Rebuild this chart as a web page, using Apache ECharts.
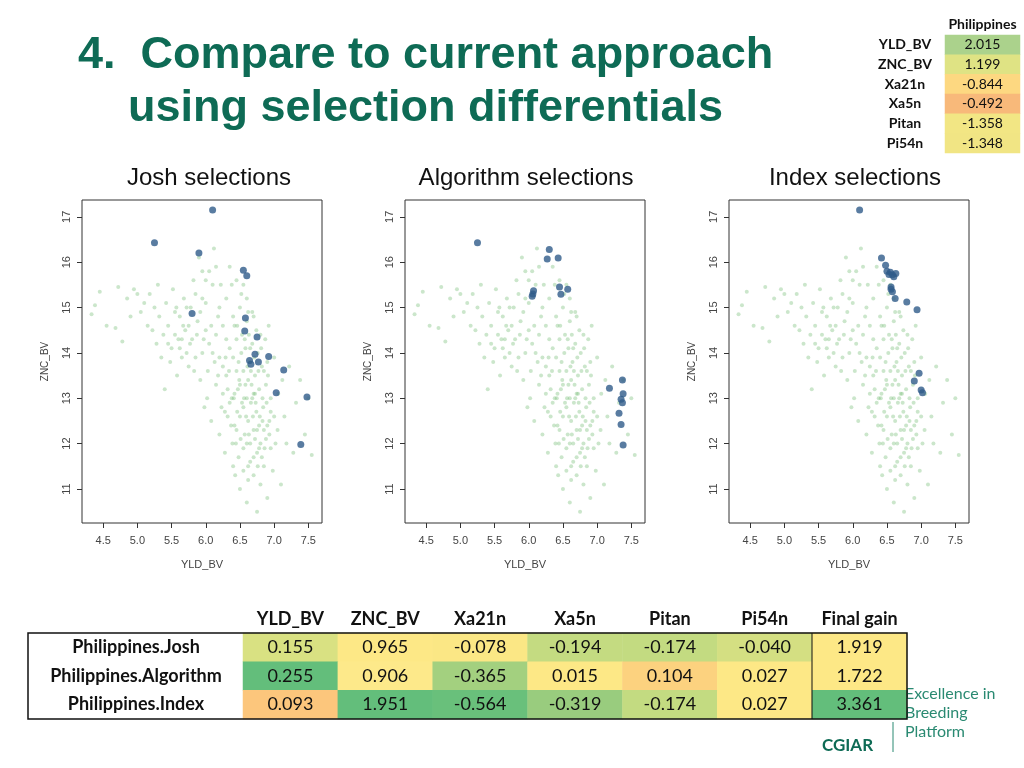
<!DOCTYPE html>
<html>
<head>
<meta charset="utf-8" />
<script src="https://cdn.jsdelivr.net/npm/echarts@6/dist/echarts.min.js"></script>
<style>
  html, body { margin: 0; padding: 0; background: #fff; overflow: hidden; }
  #main { width: 1024px; height: 768px; }
</style>
</head>
<body>
<div id="main"></div>
<script>
// ---- data ----
var panelTitles = ['Josh selections', 'Algorithm selections', 'Index selections'];
var xTicks = [4.5, 5.0, 5.5, 6.0, 6.5, 7.0, 7.5];
var yTicks = [11, 12, 13, 14, 15, 16, 17];

// all candidates (hand-estimated sample of the cloud)
var population = [
  [4.33,14.85],[4.38,15.05],[4.45,15.35],[4.55,14.6],[4.68,14.55],[4.72,15.45],[4.78,14.25],[4.85,15.2],
  [4.9,14.8],[4.95,15.4],[5.0,15.3],[5.05,14.9],[5.1,15.1],[5.15,14.6],[5.18,15.3],[5.22,14.5],[5.25,15.0],
  [5.28,14.2],[5.3,15.5],[5.32,14.8],[5.35,13.9],[5.38,14.4],[5.4,13.2],[5.42,15.1],[5.45,14.6],[5.48,13.8],
  [5.5,14.1],[5.52,15.4],[5.55,14.9],[5.58,13.5],[5.6,14.3],[5.62,14.8],[5.65,13.9],[5.68,15.2],[5.7,14.5],
  [5.72,14.0],[5.75,13.7],[5.78,15.0],[5.8,14.3],[5.82,15.6],[5.85,13.9],[5.88,14.7],[5.9,16.1],[5.92,13.4],
  [5.95,15.2],[5.98,12.8],[6.0,14.5],[6.02,13.0],[6.05,15.8],[6.08,12.5],[6.1,14.0],[6.12,16.3],[6.15,13.3],
  [6.18,14.8],[6.2,12.2],[6.22,15.5],[6.25,13.7],[6.28,11.8],[6.3,14.3],[6.32,12.6],[6.35,15.9],[6.38,13.0],
  [6.4,11.5],[6.42,14.6],[6.45,12.3],[6.48,13.8],[6.5,11.0],[6.52,15.3],[6.55,12.8],[6.58,14.1],[6.6,10.7],
  [6.62,13.4],[6.65,12.0],[6.68,14.9],[6.7,11.3],[6.72,13.1],[6.75,10.5],[6.78,12.4],[6.8,14.4],[6.82,11.7],
  [6.85,13.6],[6.88,12.1],[6.9,10.8],[6.92,14.6],[6.95,12.7],[6.98,11.4],[7.0,13.9],[7.05,12.3],[7.1,11.1],
  [7.12,13.4],[7.18,12.0],[7.22,13.7],[7.28,11.8],[7.32,12.9],[7.38,13.4],[7.45,12.2],[7.5,13.0],[7.55,11.75],
  [6.3,13.5],[6.35,12.9],[6.4,13.9],[6.42,12.4],[6.45,14.3],[6.47,13.2],[6.5,12.6],[6.52,14.0],[6.55,13.6],
  [6.57,12.2],[6.6,14.7],[6.6,13.0],[6.62,12.5],[6.64,13.8],[6.66,12.9],[6.68,14.2],[6.7,12.3],[6.72,13.5],
  [6.74,12.7],[6.76,14.0],[6.78,13.2],[6.8,12.0],[6.82,13.7],[6.84,12.8],[6.86,11.9],[6.88,13.3],[6.9,12.4],
  [6.55,11.9],[6.48,11.7],[6.65,11.6],[6.75,11.8],[6.5,15.0],[6.6,15.2],[6.7,14.8],[6.4,14.8],[6.35,14.1],
  [6.25,13.1],[6.28,12.7],[6.2,13.9],[6.15,14.4],[6.05,14.2],[6.95,13.0],[7.0,12.6],[6.9,13.8],[6.58,13.3],
  [6.63,14.4],[6.53,12.9],[6.68,13.0],[6.72,12.1],[6.45,13.6],[6.62,11.2],[6.8,11.1],[6.43,11.3],[6.95,11.9],
  [5.65,14.3],[5.55,14.4],[5.75,14.6],[5.95,14.0],[6.0,15.1],[6.1,15.5],[5.85,15.3],[5.45,14.2],[6.25,14.6],
  [6.32,13.2],[6.37,12.4],[6.41,13.0],[6.44,12.0],[6.46,14.6],[6.49,13.4],[6.51,12.1],[6.53,14.4],[6.56,13.0],
  [6.59,12.6],[6.61,13.7],[6.63,12.2],[6.65,14.1],[6.67,13.3],[6.69,12.6],[6.71,13.9],[6.73,12.9],[6.75,12.3],
  [6.77,13.6],[6.79,12.6],[6.81,14.1],[6.83,13.0],[6.85,12.3],[6.87,14.3],[6.89,12.9],[6.91,13.5],[6.93,12.2],
  [6.57,14.3],[6.62,14.9],[6.66,13.6],[6.7,13.1],[6.74,14.5],[6.78,11.9],[6.83,12.5],[6.6,12.0],[6.5,13.3],
  [6.46,12.7],[6.39,12.0],[6.34,13.6],[6.29,13.9],[6.23,12.8],[6.18,13.5],[6.13,13.8],[6.08,14.6],[6.03,13.6],
  [5.97,14.3],[5.92,14.9],[5.87,14.4],[5.83,13.6],[5.77,14.2],[5.72,15.0],[5.67,14.6],[5.62,14.1],[5.57,15.0],
  [6.62,11.5],[6.7,11.7],[6.76,11.5],[6.55,11.4],[6.85,11.5],[6.93,12.5],[7.02,12.0],[7.06,13.1],[7.15,12.6],
  [6.45,15.6],[6.3,15.2],[6.2,15.0],[6.38,15.5],[6.55,15.5],[6.15,15.9],[6.0,15.6],[5.95,15.8],[6.42,13.1]
];
var joshSel = [[6.1,17.15],[5.25,16.43],[5.9,16.2],[6.55,15.82],[6.6,15.7],[5.8,14.87],[6.58,14.77],[6.57,14.48],
  [6.75,14.35],[6.72,13.97],[6.92,13.92],[6.64,13.83],[6.66,13.75],[6.77,13.8],[7.14,13.62],[7.03,13.12],[7.48,13.03],[7.39,11.98]];
var algoSel = [[5.25,16.43],[6.3,16.28],[6.27,16.07],[6.43,16.09],[6.07,15.37],[6.06,15.3],[6.05,15.25],[6.45,15.45],
  [6.47,15.29],[6.57,15.4],[7.18,13.22],[7.37,13.4],[7.38,13.1],[7.35,12.98],[7.37,12.9],[7.32,12.67],[7.35,12.42],[7.38,11.97]];
var indexSel = [[6.1,17.15],[6.42,16.09],[6.48,15.93],[6.5,15.8],[6.55,15.78],[6.58,15.72],[6.6,15.68],[6.63,15.75],
  [6.53,15.73],[6.56,15.45],[6.56,15.4],[6.58,15.35],[6.62,15.2],[6.79,15.12],[6.94,14.95],[6.97,13.55],[6.9,13.38],[7.0,13.18],[7.02,13.12]];

// gain table
var gainCols = ['YLD_BV', 'ZNC_BV', 'Xa21n', 'Xa5n', 'Pitan', 'Pi54n', 'Final gain'];
var gainRows = ['Philippines.Josh', 'Philippines.Algorithm', 'Philippines.Index'];
var gainJosh  = [0.155, 0.965, -0.078, -0.194, -0.174, -0.040, 1.919];
var gainAlgo  = [0.255, 0.906, -0.365,  0.015,  0.104,  0.027, 1.722];
var gainIndex = [0.093, 1.951, -0.564, -0.319, -0.174,  0.027, 3.361];
// conditional-format fill (style, per cell)
var gainFill = [
  ['#d9e182', '#fde886', '#fbe785', '#c4db81', '#c3db81', '#d4df82', '#fde886'],
  ['#63be7b', '#fde98a', '#a3d07f', '#fde886', '#fcd27f', '#fde886', '#fde886'],
  ['#fcc67c', '#63be7b', '#69c07b', '#99cc7e', '#c3db81', '#fde886', '#63be7b']
];

// weights table
var weightRows = ['YLD_BV', 'ZNC_BV', 'Xa21n', 'Xa5n', 'Pitan', 'Pi54n'];
var weights = [2.015, 1.199, -0.844, -0.492, -1.358, -1.348];
var weightColors = ['#abd28c', '#dfe384', '#fdd881', '#f8b97a', '#f2e684', '#f1e584'];

// ---- build ----
var GREEN = '#0e6b55';
var grids = [], xAxes = [], yAxes = [], series = [], graphics = [];
var panelLeft = [82, 405, 729];
var sels = [joshSel, algoSel, indexSel];

panelLeft.forEach(function (left, i) {
  grids.push({ left: left, top: 200, width: 240, height: 323, show: true, borderColor: '#333', borderWidth: 1, backgroundColor: '#fff' });
  xAxes.push({
    type: 'value', gridIndex: i, min: 4.19, max: 7.7, splitLine: { show: false },
    axisLine: { show: false },
    axisTick: { show: true, length: 5, customValues: xTicks, lineStyle: { color: '#333' } },
    axisLabel: { customValues: xTicks, color: '#444', fontSize: 11, margin: 12, formatter: function (v) { return v.toFixed(1); } },
    name: 'YLD_BV', nameLocation: 'middle', nameGap: 36, nameTextStyle: { color: '#444', fontSize: 11 }
  });
  yAxes.push({
    type: 'value', gridIndex: i, min: 10.25, max: 17.37, splitLine: { show: false },
    axisLine: { show: false },
    axisTick: { show: true, length: 5, customValues: yTicks, lineStyle: { color: '#333' } },
    axisLabel: { customValues: yTicks, color: '#444', fontSize: 11, rotate: 90, margin: 10 },
    name: 'ZNC_BV', nameLocation: 'middle', nameGap: 32, nameRotate: 90, nameTextStyle: { color: '#444', fontSize: 10 }
  });
  series.push({
    type: 'scatter', xAxisIndex: i, yAxisIndex: i, data: population, symbolSize: 4, silent: true,
    itemStyle: { color: 'rgba(110,185,110,0.45)' }
  });
  series.push({
    type: 'scatter', xAxisIndex: i, yAxisIndex: i, data: sels[i], symbolSize: 7, silent: true,
    itemStyle: { color: '#2f5b8a' }
  });
  graphics.push({ type: 'text', x: [209, 526, 855][i], y: 178, style: { text: panelTitles[i], fill: '#111', fontSize: 24, fontFamily: 'Liberation Sans', align: 'center', verticalAlign: 'middle' } });
});

// gain heatmap
var gi = grids.length;
grids.push({ left: 243, top: 633, width: 664, height: 86 });
xAxes.push({ type: 'category', gridIndex: gi, data: gainCols, position: 'top', axisLine: { show: false }, axisTick: { show: false },
  axisLabel: { interval: 0, hideOverlap: false, color: '#111', fontSize: 18, fontWeight: 'bold', fontFamily: 'Lato', margin: 5 } });
yAxes.push({ type: 'category', gridIndex: gi, data: gainRows, inverse: true, axisLine: { show: false }, axisTick: { show: false },
  axisLabel: { interval: 0, color: '#111', fontSize: 18, fontWeight: 'bold', fontFamily: 'Lato', align: 'center', margin: 107 } });
var allRows = [gainJosh, gainAlgo, gainIndex];
var heat = [];
allRows.forEach(function (r, ri) {
  r.forEach(function (v, ci) {
    heat.push({ value: [ci, ri, v], itemStyle: { color: gainFill[ri][ci] } });
  });
});
series.push({ type: 'heatmap', xAxisIndex: gi, yAxisIndex: gi, data: heat, silent: true,
  label: { show: true, color: '#111', fontSize: 18, fontFamily: 'Lato', formatter: function (p) { return p.value[2].toFixed(3); } } });

// weights heatmap
var wi = grids.length;
grids.push({ left: 945, top: 35, width: 75, height: 118 });
xAxes.push({ type: 'category', gridIndex: wi, data: ['Philippines'], position: 'top', axisLine: { show: false }, axisTick: { show: false },
  axisLabel: { color: '#111', fontSize: 14, fontWeight: 'bold', fontFamily: 'Lato', margin: 4 } });
yAxes.push({ type: 'category', gridIndex: wi, data: weightRows, inverse: true, axisLine: { show: false }, axisTick: { show: false },
  axisLabel: { interval: 0, color: '#111', fontSize: 14, fontWeight: 'bold', fontFamily: 'Lato', align: 'center', margin: 40 } });
series.push({ type: 'heatmap', xAxisIndex: wi, yAxisIndex: wi, silent: true,
  data: weights.map(function (w, k) { return { value: [0, k, w], itemStyle: { color: weightColors[k] } }; }),
  label: { show: true, color: '#111', fontSize: 14, fontFamily: 'Lato', formatter: function (p) { return p.value[2].toFixed(3); } } });

// slide title, table frame, logo
graphics.push(
  { type: 'text', left: 78, top: 33, style: { text: '4.  Compare to current approach', fill: GREEN, fontSize: 45, fontWeight: 'bold', fontFamily: 'Liberation Sans' } },
  { type: 'text', left: 128, top: 86, style: { text: 'using selection differentials', fill: GREEN, fontSize: 45, fontWeight: 'bold', fontFamily: 'Liberation Sans' } },
  { type: 'rect', shape: { x: 28, y: 633, width: 879, height: 86 }, style: { fill: 'none', stroke: '#111', lineWidth: 1.5 }, z: 10 },
  { type: 'line', shape: { x1: 812, y1: 633, x2: 812, y2: 719 }, style: { stroke: '#111', lineWidth: 1 }, z: 10 },
  { type: 'text', left: 905, top: 684, style: { text: 'Excellence in\nBreeding\nPlatform', fill: '#2a8a72', fontSize: 16, lineHeight: 19, fontFamily: 'Lato' } },
  { type: 'text', left: 822, top: 737, style: { text: 'CGIAR', fill: GREEN, fontSize: 17, fontWeight: 'bold', fontFamily: 'Lato' } },
  { type: 'line', shape: { x1: 893, y1: 722, x2: 893, y2: 752 }, style: { stroke: '#2a8a72', lineWidth: 1 } }
);

var chart = echarts.init(document.getElementById('main'));
chart.setOption({
  animation: false,
  backgroundColor: '#fff',
  grid: grids, xAxis: xAxes, yAxis: yAxes, series: series, graphic: graphics
});
</script>
</body>
</html>
